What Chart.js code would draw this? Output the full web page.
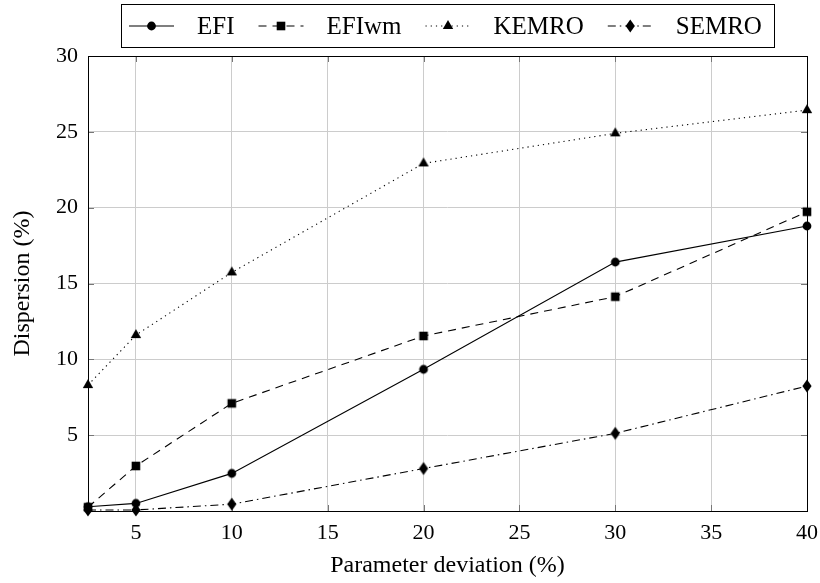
<!DOCTYPE html>
<html>
<head>
<meta charset="utf-8">
<script src="https://cdn.jsdelivr.net/npm/chart.js@4.4.1/dist/chart.umd.min.js"></script>
<style>
    body { margin: 0; background: #fff; }
    #wrap { width: 820px; height: 583px; }
</style>
</head>
<body>
<div id="wrap"><canvas id="dispersionChart" width="820" height="583"></canvas></div>
<script>
// values
const deviation = [2.5, 5, 10, 20, 30, 40];
const efi = [0.28, 0.5, 2.48, 9.34, 16.41, 18.79];
const efiwm = [0.25, 2.97, 7.1, 11.54, 14.13, 19.73];
const kemro = [8.3, 11.6, 15.73, 22.92, 24.9, 26.43];
const semro = [0.07, 0.07, 0.45, 2.8, 5.12, 8.24];

const xTicks = [5, 10, 15, 20, 25, 30, 35, 40];
const yTicks = [0, 5, 10, 15, 20, 25, 30];

const serif = "'Liberation Serif', 'DejaVu Serif', serif";

function drawMarker(ctx, shape, x, y) {
    ctx.save();
    ctx.fillStyle = "#000";
    ctx.beginPath();
    if (shape === "circle") {
        ctx.arc(x, y, 4.4, 0, Math.PI * 2);
    } else if (shape === "square") {
        ctx.rect(x - 4.3, y - 4.3, 8.6, 8.6);
    } else if (shape === "triangle") {
        ctx.moveTo(x, y - 6);
        ctx.lineTo(x + 5.2, y + 3);
        ctx.lineTo(x - 5.2, y + 3);
        ctx.closePath();
    } else if (shape === "diamond") {
        ctx.moveTo(x, y - 6.5);
        ctx.lineTo(x + 4.6, y);
        ctx.lineTo(x, y + 6.5);
        ctx.lineTo(x - 4.6, y);
        ctx.closePath();
    }
    ctx.fill();
    ctx.restore();
}

function markerCanvas(shape) {
    const c = document.createElement("canvas");
    c.width = 16;
    c.height = 16;
    drawMarker(c.getContext("2d"), shape, 8, 8);
    return c;
}

function makeSeries(label, values, shape, dash) {
    return {
        label: label,
        data: deviation.map((x, i) => ({ x: x, y: values[i] })),
        borderColor: "#000",
        borderWidth: 1.1,
        borderDash: dash,
        pointStyle: markerCanvas(shape),
        pointRadius: 6,
        marker: shape,
        fill: false,
        tension: 0,
        clip: false
    };
}

// box round the plot, short inner ticks, and the boxed legend on top
const framePlugin = {
    id: "frame",
    beforeDatasetsDraw(chart) {
        const ctx = chart.ctx;
        const a = chart.chartArea;
        const xs = chart.scales.x;
        const ys = chart.scales.y;
        ctx.save();
        ctx.strokeStyle = "#777";
        ctx.lineWidth = 1;
        ctx.beginPath();
        xTicks.forEach(v => {
            const px = Math.round(xs.getPixelForValue(v)) + 0.5;
            ctx.moveTo(px, a.bottom); ctx.lineTo(px, a.bottom - 6);
            ctx.moveTo(px, a.top); ctx.lineTo(px, a.top + 6);
        });
        yTicks.forEach(v => {
            const py = Math.round(ys.getPixelForValue(v)) + 0.5;
            ctx.moveTo(a.left, py); ctx.lineTo(a.left + 6, py);
            ctx.moveTo(a.right, py); ctx.lineTo(a.right - 6, py);
        });
        ctx.stroke();
        ctx.strokeStyle = "#000";
        ctx.strokeRect(Math.round(a.left) + 0.5, Math.round(a.top) + 0.5,
            Math.round(a.right - a.left), Math.round(a.bottom - a.top));
        ctx.restore();
    },
    afterDraw(chart) {
        const ctx = chart.ctx;
        const a = chart.chartArea;
        const sets = chart.data.datasets;
        ctx.save();
        ctx.font = "25px " + serif;
        const sampleW = 45, gapText = 23, gapNext = 24, padL = 8, padR = 12;
        let total = padL + padR;
        sets.forEach((ds, i) => {
            total += sampleW + gapText + ctx.measureText(ds.label).width;
            if (i < sets.length - 1) total += gapNext;
        });
        const boxLeft = Math.round((a.left + a.right) / 2 - total / 2);
        const boxTop = 4, boxH = 43;
        ctx.strokeStyle = "#000";
        ctx.lineWidth = 1;
        ctx.strokeRect(boxLeft + 0.5, boxTop + 0.5, Math.round(total), boxH);
        const cy = boxTop + boxH / 2 + 0.5;
        let x = boxLeft + padL;
        sets.forEach(ds => {
            ctx.beginPath();
            ctx.setLineDash(ds.borderDash || []);
            ctx.lineWidth = ds.borderWidth;
            ctx.moveTo(x, cy);
            ctx.lineTo(x + sampleW, cy);
            ctx.stroke();
            ctx.setLineDash([]);
            drawMarker(ctx, ds.marker, x + sampleW / 2, cy);
            x += sampleW + gapText;
            ctx.fillStyle = "#000";
            ctx.textBaseline = "middle";
            ctx.fillText(ds.label, x, cy + 1);
            x += ctx.measureText(ds.label).width + gapNext;
        });
        ctx.restore();
    }
};

new Chart(document.getElementById("dispersionChart"), {
    type: "line",
    data: {
        datasets: [
            makeSeries("EFI", efi, "circle", []),
            makeSeries("EFIwm", efiwm, "square", [8, 6]),
            makeSeries("KEMRO", kemro, "triangle", [1.2, 4]),
            makeSeries("SEMRO", semro, "diamond", [8, 4, 1.5, 4])
        ]
    },
    options: {
        responsive: false,
        animation: false,
        events: [],
        layout: {
            padding: { top: 56, right: 13, left: 0, bottom: 0 }
        },
        plugins: {
            legend: { display: false },
            tooltip: { enabled: false }
        },
        scales: {
            x: {
                type: "linear",
                min: 2.5,
                max: 40,
                afterBuildTicks: (axis) => { axis.ticks = xTicks.map(v => ({ value: v })); },
                afterFit: (axis) => {
                    axis.height = 72;
                    axis.paddingLeft = 0;
                    axis.paddingRight = 0;
                },
                grid: { color: "#cccccc", drawTicks: false },
                border: { display: false },
                ticks: {
                    padding: 9,
                    color: "#000",
                    maxRotation: 0,
                    font: { family: serif, size: 22 }
                },
                title: {
                    display: true,
                    text: "Parameter deviation (%)",
                    color: "#000",
                    padding: { top: 0, bottom: 3 },
                    font: { family: serif, size: 24 }
                }
            },
            y: {
                min: 0,
                max: 30,
                afterBuildTicks: (axis) => { axis.ticks = yTicks.map(v => ({ value: v })); },
                afterFit: (axis) => {
                    axis.width = 88;
                    axis.paddingTop = 0;
                    axis.paddingBottom = 0;
                },
                grid: { color: "#cccccc", drawTicks: false },
                border: { display: false },
                ticks: {
                    padding: 10,
                    color: "#000",
                    font: { family: serif, size: 22 },
                    callback: (v) => v === 0 ? "" : v
                },
                title: {
                    display: true,
                    text: "Dispersion (%)",
                    color: "#000",
                    padding: { top: 8, bottom: 0 },
                    font: { family: serif, size: 24 }
                }
            }
        }
    },
    plugins: [framePlugin]
});
</script>
</body>
</html>
